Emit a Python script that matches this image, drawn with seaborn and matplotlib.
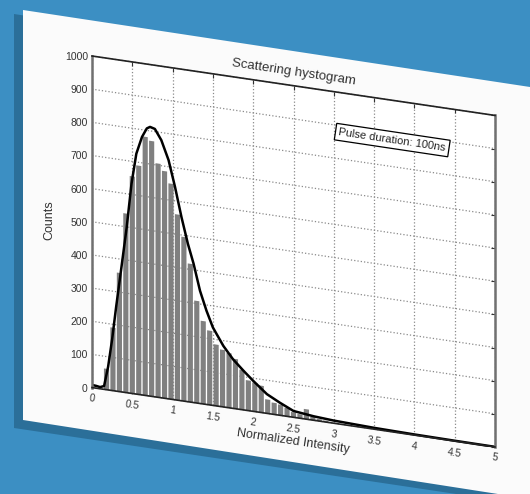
import matplotlib
matplotlib.use("Agg")
import numpy as np
import pandas as pd
import matplotlib.pyplot as plt
import matplotlib.transforms as mtransforms
from matplotlib.axes import Axes
from matplotlib.patches import Polygon
from matplotlib.projections import register_projection
from matplotlib.ticker import FormatStrFormatter
import seaborn as sns

# histogram bars
bin_centers = [0.18, 0.26, 0.34, 0.42, 0.50, 0.58, 0.66, 0.74, 0.82, 0.90,
               0.98, 1.06, 1.14, 1.22, 1.30, 1.38, 1.46, 1.54, 1.62, 1.70,
               1.78, 1.86, 1.94, 2.02, 2.10, 2.18, 2.26, 2.34, 2.42, 2.50,
               2.58, 2.66, 2.74, 2.82, 2.90]
bin_counts = [63, 190, 358, 540, 655, 690, 780, 770, 705, 685,
              650, 560, 495, 417, 308, 250, 224, 185, 172, 165,
              150, 120, 91, 87, 81, 42, 35, 32, 25, 15,
              12, 30, 10, 6, 4]
bin_width = 0.08

# fitted curve
fit_x = [0, 0.05, 0.1, 0.15, 0.2, 0.25, 0.3, 0.37, 0.43, 0.49, 0.55, 0.62,
         0.68, 0.72, 0.78, 0.86, 0.95, 1.03, 1.11, 1.19, 1.26, 1.34, 1.42,
         1.5, 1.63, 1.75, 1.88, 2.0, 2.17, 2.33, 2.5, 2.75, 3.0, 3.5, 4.0,
         4.5, 5.0]
fit_y = [8, 7, 5, 10, 70, 155, 255, 385, 498, 632, 725, 778,
         806, 812, 808, 777, 720, 642, 554, 476, 419, 340, 283,
         235, 184, 148, 118, 92, 58, 38, 19, 12, 8, 4, 2,
         1, 0.5]

x_ticks = [0, 0.5, 1, 1.5, 2, 2.5, 3, 3.5, 4, 4.5, 5]
y_ticks = [0, 100, 200, 300, 400, 500, 600, 700, 800, 900, 1000]


class SheetAxes(Axes):
    """Axes drawn on a sheet that leans down to the right."""
    name = "sheet"
    tilt = 0.152

    def _set_lim_and_transforms(self):
        super()._set_lim_and_transforms()
        s = self.tilt
        self.transAxes = (mtransforms.Affine2D.from_values(1, -s, 0, 1 - s, 0, s)
                          + mtransforms.BboxTransformTo(self.bbox))
        self.transData = self.transScale + (self.transLimits + self.transAxes)
        self._xaxis_transform = (mtransforms.blended_transform_factory(
            self.transScale + self.transLimits, mtransforms.IdentityTransform())
            + self.transAxes)
        self._yaxis_transform = (mtransforms.blended_transform_factory(
            mtransforms.IdentityTransform(), self.transScale + self.transLimits)
            + self.transAxes)


register_projection(SheetAxes)

sns.set_style("white")
plt.rcParams["font.family"] = ["Liberation Sans", "DejaVu Sans"]

W, H = 530, 494
fig = plt.figure(figsize=(W / 100, H / 100), dpi=100, facecolor="#3c8fc3")


def fig_pt(x, y):
    return (x / W, 1 - y / H)


# shadow and paper sheet, kept behind the axes
shadow = Polygon([fig_pt(14, 14), fig_pt(530, 94), fig_pt(530, 505), fig_pt(14, 428)],
                 closed=True, transform=fig.transFigure, fc="#2b6f99", ec="none", zorder=-3)
paper = Polygon([fig_pt(23, 10), fig_pt(530, 87), fig_pt(530, 499), fig_pt(23, 420)],
                closed=True, transform=fig.transFigure, fc="#fbfbfb", ec="none", zorder=-2)
fig.patches.extend([shadow, paper])

ax = fig.add_axes([92 / W, 47 / H, 403 / W, 391 / H], projection="sheet")
ax.set_facecolor("white")

hist_df = pd.DataFrame({"intensity": bin_centers, "counts": bin_counts})
edges = [c - bin_width / 2 for c in bin_centers] + [bin_centers[-1] + bin_width / 2]
sns.histplot(data=hist_df, x="intensity", weights="counts", bins=edges,
             shrink=0.8, color="#808080", alpha=1, linewidth=0, ax=ax)

fit_df = pd.DataFrame({"x": fit_x, "y": fit_y})
sns.lineplot(data=fit_df, x="x", y="y", color="black", linewidth=1.8, ax=ax)

ax.set_xlim(0, 5)
ax.set_ylim(0, 1000)
ax.set_xticks(x_ticks)
ax.set_yticks(y_ticks)
ax.xaxis.set_major_formatter(FormatStrFormatter("%g"))
ax.set_axisbelow(True)
ax.grid(True, linestyle=":", color="#8a8a8a", linewidth=0.9)
ax.tick_params(direction="in", top=True, right=True, length=3,
               labelsize=7.5, labelcolor="#333333", color="#333333")
ax.tick_params(axis="x", labelrotation=-8.5, pad=4)
ax.tick_params(axis="y", pad=3)

for side in ["left", "right"]:
    ax.spines[side].set_color("#707070")
    ax.spines[side].set_linewidth(1.8)
for side in ["top", "bottom"]:
    ax.spines[side].set_color("#222222")
    ax.spines[side].set_linewidth(1.2)

ax.set_title("Scattering hystogram", y=1.04, pad=0, rotation=-8.5, va="center",
             fontsize=9.5, color="#333333")
ax.set_xlabel("Normalized Intensity", fontsize=9, color="#333333",
              rotation=-8.5, va="center")
ax.xaxis.set_label_coords(0.5, -0.072)
ax.set_ylabel("Counts", fontsize=9, color="#333333")
ax.yaxis.set_label_coords(-0.09, 0.49)

ax.text(0.745, 0.88, "Pulse duration: 100ns", transform=ax.transAxes,
        rotation=-8.5, ha="center", va="center", fontsize=8, color="#222222",
        bbox=dict(boxstyle="square,pad=0.3", fc="white", ec="black", lw=0.9))

fig.savefig("out.png", dpi=100, facecolor=fig.get_facecolor())
